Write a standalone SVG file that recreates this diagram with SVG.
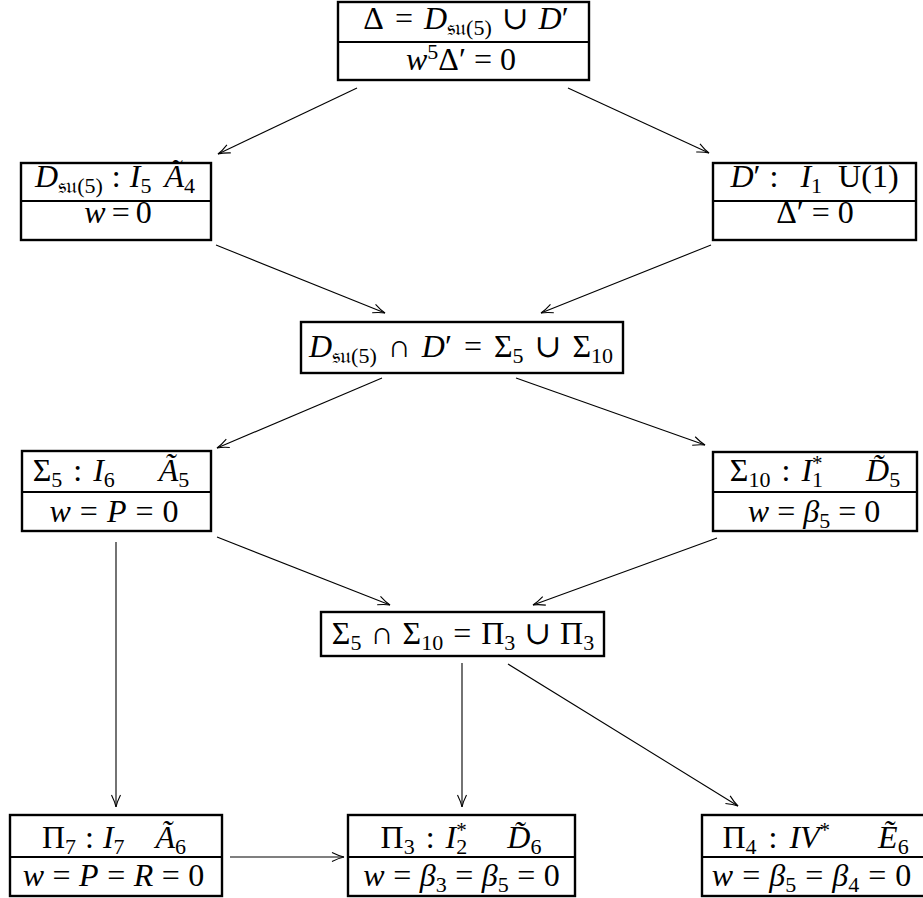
<svg xmlns="http://www.w3.org/2000/svg" width="923" height="898" viewBox="0 0 923 898">
<style>
.t{font-family:"Liberation Serif","DejaVu Serif",serif;font-size:32px;fill:#000;text-anchor:middle}
.i{font-style:italic}
.s{font-size:22px}
.st{font-size:21px}
.box{fill:#fff;stroke:#000;stroke-width:2.4}
.div{stroke:#000;stroke-width:2.2}
.con line{stroke:#000;stroke-width:1.1;fill:none}
</style>
<defs>
<marker id="ah" markerUnits="userSpaceOnUse" markerWidth="14" markerHeight="12" viewBox="-13 -6 14 12" refX="0" refY="0" orient="auto" overflow="visible">
<path d="M-12,-4.5 Q-5,-1 0,0 Q-5,1 -12,4.5" fill="none" stroke="#000" stroke-width="1.1"/>
</marker>
</defs>
<rect width="923" height="898" fill="#fff"/>
<g class="con">
<line x1="357" y1="88" x2="218" y2="154" marker-end="url(#ah)"/>
<line x1="568" y1="88" x2="709" y2="153" marker-end="url(#ah)"/>
<line x1="216" y1="245" x2="385" y2="313" marker-end="url(#ah)"/>
<line x1="711" y1="245" x2="541" y2="313" marker-end="url(#ah)"/>
<line x1="382" y1="378" x2="217" y2="448" marker-end="url(#ah)"/>
<line x1="516" y1="378" x2="705" y2="445" marker-end="url(#ah)"/>
<line x1="217" y1="537" x2="390" y2="605" marker-end="url(#ah)"/>
<line x1="717" y1="538" x2="533" y2="605" marker-end="url(#ah)"/>
<line x1="116" y1="542" x2="116" y2="807" marker-end="url(#ah)"/>
<line x1="462" y1="663" x2="462" y2="807" marker-end="url(#ah)"/>
<line x1="508" y1="664" x2="738" y2="806" marker-end="url(#ah)"/>
<line x1="230" y1="857" x2="344" y2="857" marker-end="url(#ah)"/>
</g>
<g id="n1">
<rect class="box" x="338" y="2" width="251" height="78"/>
<line class="div" x1="338" y1="42" x2="589" y2="42"/>
<text class="t" x="466" y="29">Δ<tspan dx="11">=</tspan><tspan dx="11" class="i">D</tspan><tspan class="s" dy="6">𝔰𝔲(5)</tspan><tspan dy="-6" dx="10">∪</tspan><tspan dx="10" class="i">D</tspan>′</text>
<text class="t" x="461" y="70"><tspan class="i">w</tspan><tspan class="s" dy="-11">5</tspan><tspan dy="11">Δ′</tspan><tspan dx="8">=</tspan><tspan dx="8">0</tspan></text>
</g>
<g id="n2">
<rect class="box" x="21" y="163" width="190" height="77"/>
<line class="div" x1="21" y1="201" x2="211" y2="201"/>
<text class="t" x="115" y="187"><tspan class="i">D</tspan><tspan class="s" dy="6">𝔰𝔲(5)</tspan><tspan dy="-6" dx="9">:</tspan><tspan dx="9" class="i">I</tspan><tspan class="s" dy="6">5</tspan><tspan dy="-6" dx="13" class="i">Ã</tspan><tspan class="s" dy="6">4</tspan></text>
<text class="t" x="118" y="223"><tspan class="i">w</tspan><tspan dx="6">=</tspan><tspan dx="6">0</tspan></text>
</g>
<g id="n3">
<rect class="box" x="713" y="163" width="203" height="77"/>
<line class="div" x1="713" y1="201" x2="916" y2="201"/>
<text class="t" x="814.5" y="187"><tspan class="i">D</tspan>′<tspan dx="9">:</tspan><tspan dx="22" class="i">I</tspan><tspan class="s" dy="6">1</tspan><tspan dy="-6" dx="16">U(1)</tspan></text>
<text class="t" x="815" y="223">Δ′<tspan dx="8">=</tspan><tspan dx="8">0</tspan></text>
</g>
<g id="n4">
<rect class="box" x="301" y="322" width="322" height="51"/>
<text class="t" x="461" y="357"><tspan class="i">D</tspan><tspan class="s" dy="6">𝔰𝔲(5)</tspan><tspan dy="-6" dx="11">∩</tspan><tspan dx="11" class="i">D</tspan>′<tspan dx="12">=</tspan><tspan dx="12">Σ</tspan><tspan class="s" dy="6">5</tspan><tspan dy="-6" dx="11">∪</tspan><tspan dx="11">Σ</tspan><tspan class="s" dy="6">10</tspan></text>
</g>
<g id="n5">
<rect class="box" x="22" y="451" width="189" height="80"/>
<line class="div" x1="22" y1="492" x2="211" y2="492"/>
<text class="t" x="111" y="481">Σ<tspan class="s" dy="6">5</tspan><tspan dy="-6" dx="11">:</tspan><tspan dx="11" class="i">I</tspan><tspan class="s" dy="6">6</tspan><tspan dy="-6" dx="44" class="i">Ã</tspan><tspan class="s" dy="6">5</tspan></text>
<text class="t" x="114" y="522"><tspan class="i">w</tspan><tspan dx="9">=</tspan><tspan dx="9" class="i">P</tspan><tspan dx="9">=</tspan><tspan dx="9">0</tspan></text>
</g>
<g id="n6">
<rect class="box" x="713" y="452" width="204" height="79"/>
<line class="div" x1="713" y1="492" x2="917" y2="492"/>
<text class="t" x="815" y="481">Σ<tspan class="s" dy="6">10</tspan><tspan dy="-6" dx="11">:</tspan><tspan dx="11" class="i">I</tspan><tspan class="st" dy="-11">*</tspan><tspan class="s" dx="-10.5" dy="17">1</tspan><tspan dy="-6" dx="43" class="i">D̃</tspan><tspan class="s" dy="6">5</tspan></text>
<text class="t" x="814" y="522"><tspan class="i">w</tspan><tspan dx="8">=</tspan><tspan dx="8" class="i">β</tspan><tspan class="s" dy="6">5</tspan><tspan dy="-6" dx="8">=</tspan><tspan dx="8">0</tspan></text>
</g>
<g id="n7">
<rect class="box" x="321" y="612" width="283" height="44"/>
<text class="t" x="463" y="644">Σ<tspan class="s" dy="6">5</tspan><tspan dy="-6" dx="9">∩</tspan><tspan dx="9">Σ</tspan><tspan class="s" dy="6">10</tspan><tspan dy="-6" dx="10">=</tspan><tspan dx="10">Π</tspan><tspan class="s" dy="6">3</tspan><tspan dy="-6" dx="9">∪</tspan><tspan dx="9">Π</tspan><tspan class="s" dy="6">3</tspan></text>
</g>
<g id="n8">
<rect class="box" x="10" y="815" width="212" height="81"/>
<line class="div" x1="10" y1="857" x2="222" y2="857"/>
<text class="t" x="114" y="848">Π<tspan class="s" dy="6">7</tspan><tspan dy="-6" dx="9">:</tspan><tspan dx="9" class="i">I</tspan><tspan class="s" dy="6">7</tspan><tspan dy="-6" dx="31" class="i">Ã</tspan><tspan class="s" dy="6">6</tspan></text>
<text class="t" x="113.5" y="886"><tspan class="i">w</tspan><tspan dx="8.5">=</tspan><tspan dx="8.5" class="i">P</tspan><tspan dx="8.5">=</tspan><tspan dx="8.5" class="i">R</tspan><tspan dx="8.5">=</tspan><tspan dx="8.5">0</tspan></text>
</g>
<g id="n9">
<rect class="box" x="348" y="815" width="227" height="81"/>
<line class="div" x1="348" y1="857" x2="575" y2="857"/>
<text class="t" x="461" y="848">Π<tspan class="s" dy="6">3</tspan><tspan dy="-6" dx="11">:</tspan><tspan dx="11" class="i">I</tspan><tspan class="st" dy="-11">*</tspan><tspan class="s" dx="-10.5" dy="17">2</tspan><tspan dy="-6" dx="40" class="i">D̃</tspan><tspan class="s" dy="6">6</tspan></text>
<text class="t" x="461.5" y="886"><tspan class="i">w</tspan><tspan dx="8.5">=</tspan><tspan dx="8.5" class="i">β</tspan><tspan class="s" dy="6">3</tspan><tspan dy="-6" dx="8.5">=</tspan><tspan dx="8.5" class="i">β</tspan><tspan class="s" dy="6">5</tspan><tspan dy="-6" dx="8.5">=</tspan><tspan dx="8.5">0</tspan></text>
</g>
<g id="n10">
<rect class="box" x="702" y="815" width="223" height="81"/>
<line class="div" x1="702" y1="857" x2="925" y2="857"/>
<text class="t" x="815.5" y="848">Π<tspan class="s" dy="6">4</tspan><tspan dy="-6" dx="12">:</tspan><tspan dx="12" class="i">IV</tspan><tspan class="st" dy="-11">*</tspan><tspan dy="11" dx="48" class="i">Ẽ</tspan><tspan class="s" dy="6">6</tspan></text>
<text class="t" x="811.5" y="886"><tspan class="i">w</tspan><tspan dx="9">=</tspan><tspan dx="9" class="i">β</tspan><tspan class="s" dy="6">5</tspan><tspan dy="-6" dx="9">=</tspan><tspan dx="9" class="i">β</tspan><tspan class="s" dy="6">4</tspan><tspan dy="-6" dx="9">=</tspan><tspan dx="9">0</tspan></text>
</g>
</svg>
